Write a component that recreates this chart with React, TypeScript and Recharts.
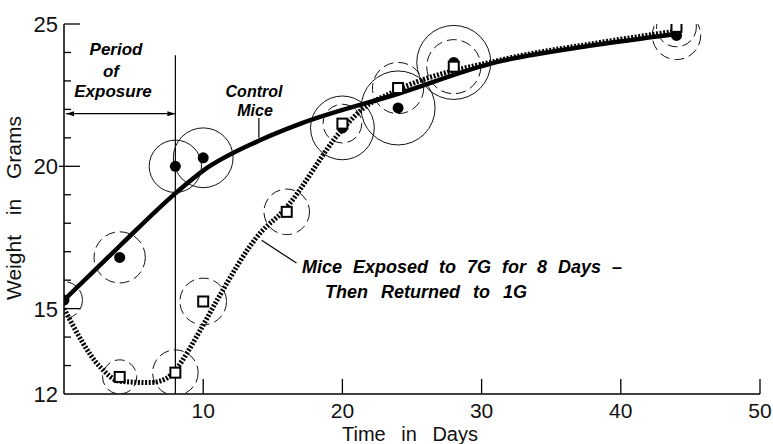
import React from 'react';
import {
  ComposedChart,
  Line,
  Scatter,
  XAxis,
  YAxis,
  ReferenceLine,
} from 'recharts';

// measured points (days, grams) and the spread circles drawn around them (grams)
const controlDays = [0, 4, 8, 10, 20, 24, 28, 44];
const controlWeights = [15.3, 16.8, 20.0, 20.3, 21.35, 22.05, 23.65, 24.6];
const controlSpread = [0.65, 0.9, 0.92, 1.05, 1.12, 1.3, 1.3, 0.85];

const exposedDays = [4, 8, 10, 16, 20, 24, 28, 44];
const exposedWeights = [12.6, 12.75, 15.25, 18.4, 21.5, 22.75, 23.5, 24.9];
const exposedSpread = [0.6, 0.8, 0.82, 0.8, 0.68, 0.9, 0.95, 0.7];

// hand-drawn fitted curves
const controlCurveDays = [0, 4, 8, 10, 14, 17, 24, 31, 38, 44];
const controlCurveWeights = [15.3, 17.2, 19.05, 19.85, 20.9, 21.5, 22.55, 23.65, 24.25, 24.65];

const exposedCurveDays = [0, 2.6, 4, 6.2, 7.4, 8, 9.8, 11, 14.1, 15.7, 20, 21.4, 23.6, 31.5, 38.5, 44];
const exposedCurveWeights = [15.0, 12.95, 12.45, 12.4, 12.56, 12.85, 14.25, 15.3, 17.66, 18.4, 21.3, 22.0, 22.6, 23.75, 24.35, 24.75];

const xTicks = [10, 20, 30, 40, 50];
const yTicks = [12, 13, 14, 15, 16, 17, 18, 19, 20, 21, 22, 23, 24, 25];
const yLabels = [12, 15, 20, 25];
const yMajor = [15, 20, 25];

// style: control circles drawn with a full line on these days
const solidRingDays = [8, 10, 20, 24, 28];

const W = 773;
const H = 444;
const MARGIN = { top: 24, right: 13, left: 14, bottom: 0 };
const Y_AXIS_W = 50;
const X_AXIS_H = 50;
const PX_PER_G = (H - MARGIN.top - MARGIN.bottom - X_AXIS_H) / (25 - 12);

const FONT = '"Liberation Sans", Arial, sans-serif';

const controlPts = controlDays.map((d, i) => ({ day: d, w: controlWeights[i], sd: controlSpread[i] }));
const exposedPts = exposedDays.map((d, i) => ({ day: d, w: exposedWeights[i], sd: exposedSpread[i] }));
const controlCurve = controlCurveDays.map((d, i) => ({ day: d, w: controlCurveWeights[i] }));
const exposedCurve = exposedCurveDays.map((d, i) => ({ day: d, w: exposedCurveWeights[i] }));

const ring = (isControl: boolean) => (props: any) => {
  const { cx, cy, payload } = props;
  const solid = isControl && solidRingDays.includes(payload.day);
  return (
    <circle
      cx={cx}
      cy={cy}
      r={payload.sd * PX_PER_G}
      fill="none"
      stroke="#111"
      strokeWidth={1}
      strokeDasharray={solid ? undefined : '10 5'}
    />
  );
};

const Dot = (props: any) => <circle cx={props.cx} cy={props.cy} r={5.5} fill="#000" />;

const Square = (props: any) => (
  <rect x={props.cx - 5} y={props.cy - 5} width={10} height={10} fill="#fff" stroke="#000" strokeWidth={2} />
);

const YTick = (props: any) => {
  const { x, y, payload } = props;
  const v = payload.value;
  const len = yMajor.includes(v) ? 16 : 7;
  return (
    <g>
      {v !== 12 && <line x1={x} y1={y} x2={x + len} y2={y} stroke="#000" strokeWidth={1.3} />}
      {v === 20 && <line x1={x - 5} y1={y} x2={x} y2={y} stroke="#000" strokeWidth={1.3} />}
      {yLabels.includes(v) && (
        <text x={x - 6} y={y + 8} textAnchor="end" fontFamily={FONT} fontSize={22} fill="#111">
          {v}
        </text>
      )}
    </g>
  );
};

const XTick = (props: any) => {
  const { x, y, payload } = props;
  return (
    <g>
      <line x1={x} y1={y} x2={x} y2={y - 15} stroke="#000" strokeWidth={1.3} />
      <text x={x} y={y + 24} textAnchor="middle" fontFamily={FONT} fontSize={21} fill="#111">
        {payload.value}
      </text>
    </g>
  );
};

const DoubleArrow = (props: any) => {
  const { x1, y1, x2, y2 } = props;
  return (
    <g>
      <line x1={x1 + 2} y1={y1} x2={x2} y2={y2} stroke="#000" strokeWidth={1.2} />
      <polygon points={`${x1 + 2},${y1} ${x1 + 10},${y1 - 2.5} ${x1 + 10},${y1 + 2.5}`} fill="#000" />
      <polygon points={`${x2},${y2} ${x2 - 8},${y2 - 2.5} ${x2 - 8},${y2 + 2.5}`} fill="#000" />
    </g>
  );
};

const note = {
  fontFamily: FONT,
  fontWeight: 700,
  fontStyle: 'italic' as const,
  fill: '#000',
};

export default function App() {
  return (
    <div style={{ position: 'absolute', left: 0, top: 0, width: W, height: H, background: '#fff' }}>
      <ComposedChart width={W} height={H} margin={MARGIN}>
        <XAxis
          type="number"
          dataKey="day"
          domain={[0, 50]}
          ticks={xTicks}
          allowDataOverflow
          height={X_AXIS_H}
          axisLine={{ stroke: '#000', strokeWidth: 1.5 }}
          tickLine={false}
          tickSize={0}
          tickMargin={0}
          tick={<XTick />}
          interval={0}
        />
        <YAxis
          type="number"
          dataKey="w"
          domain={[12, 25]}
          ticks={yTicks}
          allowDataOverflow
          width={Y_AXIS_W}
          axisLine={{ stroke: '#000', strokeWidth: 1.5 }}
          tickLine={false}
          tickSize={0}
          tickMargin={0}
          tick={<YTick />}
          interval={0}
        />
        <ReferenceLine
          segment={[{ x: 8, y: 23.9 }, { x: 8, y: 12 }]}
          stroke="#000"
          strokeWidth={1.2}
        />
        <ReferenceLine
          segment={[{ x: 0, y: 21.85 }, { x: 8, y: 21.85 }]}
          shape={<DoubleArrow />}
        />
        <ReferenceLine
          segment={[{ x: 14, y: 21.7 }, { x: 14, y: 21.0 }]}
          stroke="#000"
          strokeWidth={1.2}
        />
        <ReferenceLine
          segment={[{ x: 14.2, y: 17.4 }, { x: 16.7, y: 16.6 }]}
          stroke="#000"
          strokeWidth={1.2}
        />
        <Scatter data={controlPts} dataKey="w" shape={ring(true)} isAnimationActive={false} />
        <Scatter data={exposedPts} dataKey="w" shape={ring(false)} isAnimationActive={false} />
        <Line
          data={controlCurve}
          dataKey="w"
          type="monotone"
          stroke="#000"
          strokeWidth={4.5}
          dot={false}
          activeDot={false}
          isAnimationActive={false}
        />
        <Line
          data={exposedCurve}
          dataKey="w"
          type="monotone"
          stroke="#000"
          strokeWidth={5}
          strokeDasharray="2 1.6"
          dot={false}
          activeDot={false}
          isAnimationActive={false}
        />
        <Scatter data={controlPts} dataKey="w" shape={<Dot />} isAnimationActive={false} />
        <Scatter data={exposedPts} dataKey="w" shape={<Square />} isAnimationActive={false} />
      </ComposedChart>

      <svg
        width={W}
        height={H}
        style={{ position: 'absolute', left: 0, top: 0, pointerEvents: 'none' }}
      >
        <text x={116} y={55} textAnchor="middle" fontSize={17} {...note}>Period</text>
        <text x={111} y={77} textAnchor="middle" fontSize={17} {...note}>of</text>
        <text x={113} y={97} textAnchor="middle" fontSize={17} {...note}>Exposure</text>

        <text x={254} y={97} textAnchor="middle" fontSize={16} {...note}>Control</text>
        <text x={255} y={116} textAnchor="middle" fontSize={16} {...note}>Mice</text>

        <text x={302} y={273} fontSize={18} wordSpacing={6} {...note}>
          Mice Exposed to 7G for 8 Days –
        </text>
        <text x={325} y={298} fontSize={18} wordSpacing={8} {...note}>
          Then Returned to 1G
        </text>

        <text x={410} y={441} textAnchor="middle" fontFamily={FONT} fontSize={20} wordSpacing={10} fill="#111">
          Time in Days
        </text>
        <text
          x={0}
          y={0}
          transform="translate(21, 208) rotate(-90)"
          textAnchor="middle"
          fontFamily={FONT}
          fontSize={21}
          wordSpacing={14}
          fill="#111"
        >
          Weight in Grams
        </text>
      </svg>
    </div>
  );
}
